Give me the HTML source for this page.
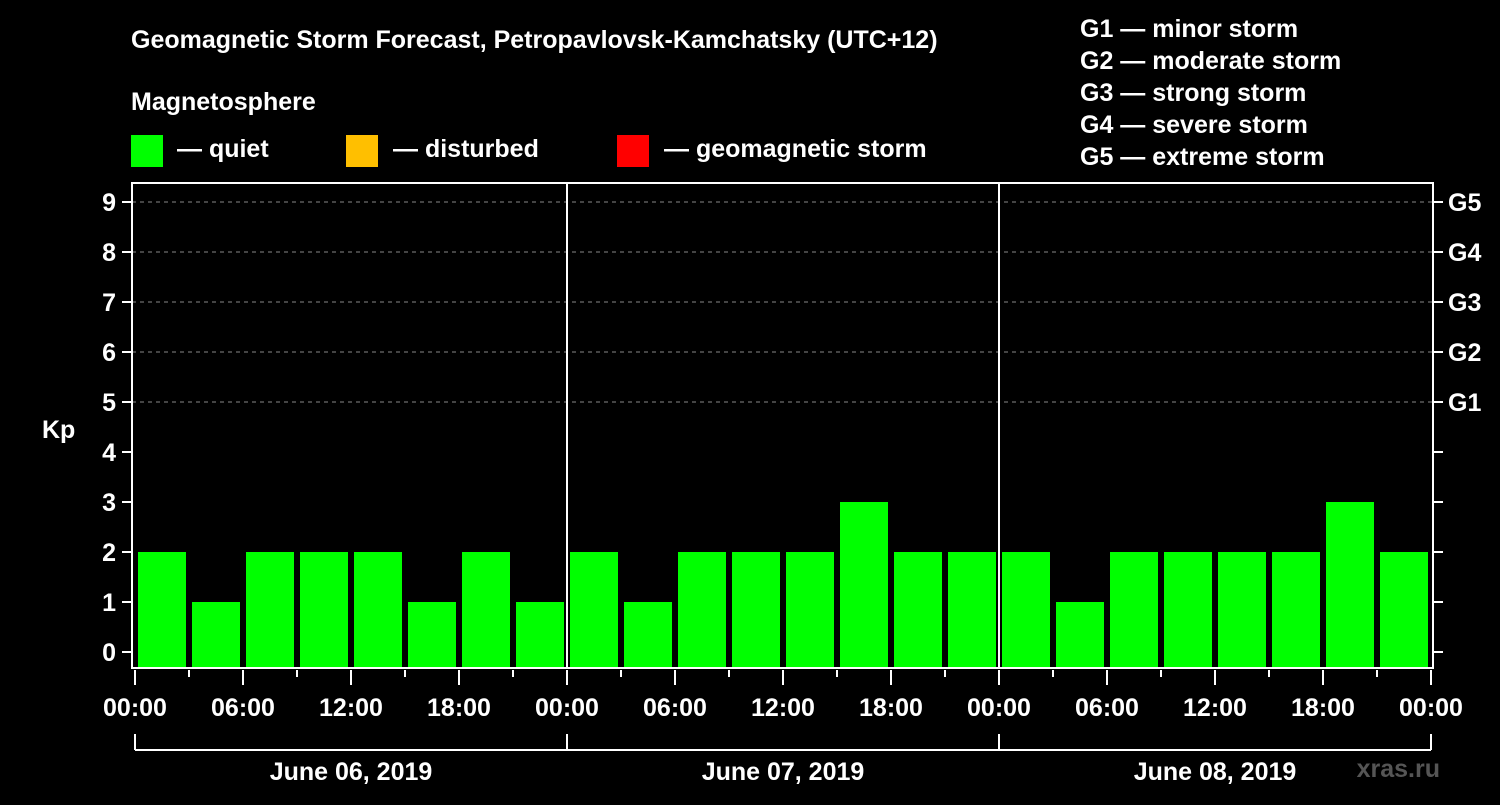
<!DOCTYPE html>
<html><head><meta charset="utf-8"><style>
body{margin:0;background:#000;}
svg text{font-family:"Liberation Sans",Arial,sans-serif;font-weight:bold;fill:#fff;}
</style></head><body>
<svg width="1500" height="800" viewBox="0 0 1500 800">
<rect width="1500" height="800" fill="#000"/>
<text x="131" y="48" font-size="25">Geomagnetic Storm Forecast, Petropavlovsk-Kamchatsky (UTC+12)</text>
<text x="131" y="110" font-size="25">Magnetosphere</text>
<g><rect x="131" y="135" width="32" height="32" fill="#00ff00"/><text x="177" y="157" font-size="25">— quiet</text></g>
<g><rect x="346" y="135" width="32" height="32" fill="#ffbf00"/><text x="393" y="157" font-size="25">— disturbed</text></g>
<g><rect x="617" y="135" width="32" height="32" fill="#ff0000"/><text x="664" y="157" font-size="25">— geomagnetic storm</text></g>
<g font-size="25">
<text x="1080" y="37">G1 — minor storm</text>
<text x="1080" y="69">G2 — moderate storm</text>
<text x="1080" y="101">G3 — strong storm</text>
<text x="1080" y="133">G4 — severe storm</text>
<text x="1080" y="165">G5 — extreme storm</text>
</g>
<text x="42" y="438" font-size="25">Kp</text>
<text x="1440" y="777" font-size="25" fill="#666" style="fill:#555" text-anchor="end">xras.ru</text>
<g id="grid"></g>
<g id="bars"></g>
<g id="axes"></g>
</svg>
<script>
const kpValues=[2,1,2,2,2,1,2,1, 2,1,2,2,2,3,2,2, 2,1,2,2,2,2,3,2];
const dayLabels=["June 06, 2019","June 07, 2019","June 08, 2019"];
const hourLabels=["00:00","06:00","12:00","18:00"];
const gLabels=["G1","G2","G3","G4","G5"];
const yTicks=[0,1,2,3,4,5,6,7,8,9];
const NS="http://www.w3.org/2000/svg";
const L=132,R=1433,T=183,B=668;
const X0=135,DAYW=432;
const y=v=>652-v*50;
const x=h=>X0+h*DAYW/24;
function mk(tag,attrs,parent){const e=document.createElementNS(NS,tag);for(const k in attrs)e.setAttribute(k,attrs[k]);document.getElementById(parent).appendChild(e);return e;}
// grid
for(let v=5;v<=9;v++){const l=mk('line',{x1:L,x2:R,y1:y(v),y2:y(v),stroke:'#888','stroke-dasharray':'4,4','stroke-width':1},'grid');

}
// bars
kpValues.forEach((v,i)=>{const r=mk('rect',{x:x(i*3)+3,width:DAYW/8-6,y:y(v),height:B-y(v),fill:v>=5?'#ff0000':(v>=4?'#ffbf00':'#00ff00')},'bars');

});
// frame
const f=mk('rect',{x:L,y:T,width:R-L,height:B-T,fill:'none',stroke:'#fff','stroke-width':2},'axes');


for(let d=1;d<3;d++){const l=mk('line',{x1:x(d*24),x2:x(d*24),y1:T,y2:B,stroke:'#fff','stroke-width':2},'axes');

}
yTicks.forEach(v=>{mk('line',{x1:122,x2:L,y1:y(v),y2:y(v),stroke:'#fff','stroke-width':2},'axes');
mk('line',{x1:R,x2:R+10,y1:y(v),y2:y(v),stroke:'#fff','stroke-width':2},'axes');
const t=mk('text',{x:116,y:y(v)+9,'font-size':25,'text-anchor':'end'},'axes');t.textContent=v;

});
gLabels.forEach((g,i)=>{const t=mk('text',{x:1448,y:y(i+5)+9,'font-size':25},'axes');t.textContent=g;

});
for(let h=0;h<=72;h+=3){const major=h%6===0;mk('line',{x1:x(h),x2:x(h),y1:B+2,y2:major?B+17:B+9,stroke:'#fff','stroke-width':2},'axes');}
for(let h=0;h<=72;h+=6){const t=mk('text',{x:x(h),y:716,'font-size':25,'text-anchor':'middle'},'axes');t.textContent=hourLabels[(h/6)%4];

}
mk('line',{x1:x(0),x2:x(72),y1:750,y2:750,stroke:'#fff','stroke-width':2},'axes');
for(let d=0;d<=3;d++)mk('line',{x1:x(d*24),x2:x(d*24),y1:734,y2:750,stroke:'#fff','stroke-width':2},'axes');
dayLabels.forEach((s,d)=>{const t=mk('text',{x:x(d*24+12),y:780,'font-size':25,'text-anchor':'middle'},'axes');t.textContent=s;

});
</script>
</body></html>
